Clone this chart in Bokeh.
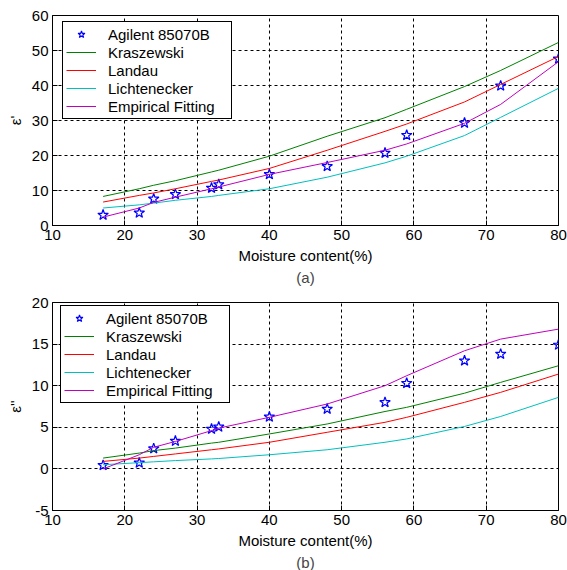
from bokeh.plotting import figure
from bokeh.layouts import column
from bokeh.models import Range1d, FixedTicker, Title
from bokeh.embed import file_html
from bokeh.resources import INLINE

moisture = [17, 22, 24, 27, 32, 33, 40, 48, 56, 59, 67, 72, 80]

# (a) real part
eps1_meas = [3.0, 3.6, 7.6, 8.9, 10.7, 11.7, 14.6, 16.9, 20.7, 25.8, 29.3, 39.9, 47.6]
eps1_krasz = [8.3, 10.5, 11.5, 12.8, 15.3, 15.8, 19.8, 25.5, 30.8, 33.2, 39.7, 44.3, 52.3]
eps1_landau = [6.7, 8.6, 9.3, 10.5, 12.6, 13.0, 16.3, 21.5, 26.9, 29.0, 35.3, 40.3, 48.3]
eps1_licht = [5.0, 5.9, 6.4, 7.2, 8.3, 8.6, 10.5, 13.8, 17.9, 19.8, 25.7, 30.9, 39.2]
eps1_emp = [2.4, 5.0, 6.6, 8.1, 10.5, 11.0, 14.6, 18.0, 21.5, 23.3, 29.2, 34.6, 46.8]

# (b) imaginary part
eps2_meas = [0.43, 0.72, 2.44, 3.35, 4.8, 5.05, 6.25, 7.2, 8.0, 10.3, 13.0, 13.8, 14.9]
eps2_krasz = [1.3, 1.9, 2.2, 2.5, 3.1, 3.2, 4.2, 5.4, 6.9, 7.4, 9.1, 10.4, 12.4]
eps2_landau = [0.9, 1.3, 1.5, 1.8, 2.3, 2.4, 3.2, 4.4, 5.6, 6.2, 8.0, 9.2, 11.4]
eps2_licht = [0.5, 0.75, 0.85, 1.0, 1.2, 1.25, 1.7, 2.3, 3.2, 3.6, 5.1, 6.3, 8.6]
eps2_emp = [0.0, 1.7, 2.6, 3.3, 4.6, 4.9, 6.2, 7.8, 10.0, 11.2, 14.2, 15.6, 16.8]

x_ticks = [10, 20, 30, 40, 50, 60, 70, 80]
y1_ticks = [0, 10, 20, 30, 40, 50, 60]
y2_ticks = [-5, 0, 5, 10, 15, 20]
series_names = ["Agilent 85070B", "Kraszewski", "Landau", "Lichtenecker", "Empirical Fitting"]
series_colors = ["#0000ff", "#008000", "#ff0000", "#00bfbf", "#bf00bf"]

FONT = "Liberation Sans"
FS = "15px"

def make(meas, kr, la, li, em, yr, yticks, ylabel, tag, frame_h, top, bottom, loc):
    p = figure(frame_width=506, frame_height=frame_h, title=None,
               output_backend="svg", toolbar_location=None,
               x_range=Range1d(10, 80), y_range=Range1d(*yr),
               min_border_left=52, min_border_right=9, min_border_top=top,
               min_border_bottom=bottom)
    p.background_fill_color = "white"
    p.border_fill_color = "white"
    p.outline_line_color = "black"
    p.outline_line_width = 1
    p.outline_line_alpha = 1

    for g in (p.xgrid, p.ygrid):
        g.grid_line_color = "black"
        g.grid_line_dash = "3 3"
        g.grid_line_alpha = 1
        g.grid_line_width = 1

    p.scatter(moisture, meas, marker="star", size=11, line_color=series_colors[0],
              fill_color=None, line_width=1.2, legend_label=series_names[0])
    for ys, name, col in zip([kr, la, li, em], series_names[1:], series_colors[1:]):
        p.line(moisture, ys, line_color=col, line_width=1, line_alpha=1.0,
               legend_label=name)

    p.xaxis.ticker = FixedTicker(ticks=x_ticks)
    p.yaxis.ticker = FixedTicker(ticks=yticks)
    p.yaxis.major_label_overrides = {t: str(t) for t in yticks}
    for ax in (p.xaxis, p.yaxis):
        ax.axis_line_color = "black"
        ax.major_tick_line_color = "black"
        ax.major_tick_in = 5
        ax.major_tick_out = 0
        ax.minor_tick_line_color = None
        ax.major_label_text_font = FONT
        ax.major_label_text_font_size = FS
        ax.major_label_text_color = "black"
        ax.axis_label_text_font = FONT
        ax.axis_label_text_font_size = FS
        ax.axis_label_text_font_style = "normal"
        ax.axis_label_text_color = "black"
    p.xaxis.major_label_standoff = 4
    p.yaxis.major_label_standoff = 4
    p.xaxis.axis_label = "Moisture content(%)"
    p.xaxis.axis_label_standoff = 4
    p.yaxis.axis_label = ylabel
    p.yaxis.axis_label_standoff = 5

    p.add_layout(Title(text=tag, align="center", text_font=FONT, text_font_size=FS,
                       text_font_style="normal", standoff=0), "below")

    lg = p.legend[0]
    lg.location = loc
    lg.margin = 0
    lg.padding = 3
    lg.spacing = 0
    lg.label_height = 18
    lg.glyph_height = 18
    lg.glyph_width = 30
    lg.label_standoff = 12
    lg.label_width = 120
    lg.label_text_font = FONT
    lg.label_text_font_size = FS
    lg.label_text_color = "black"
    lg.border_line_color = "black"
    lg.border_line_width = 1
    lg.border_line_alpha = 1
    lg.background_fill_color = "white"
    lg.background_fill_alpha = 1
    return p

p1 = make(eps1_meas, eps1_krasz, eps1_landau, eps1_licht, eps1_emp, (0, 60), y1_ticks,
          "ε'", "(a)", 210, 15, 62, (10, 106))
p2 = make(eps2_meas, eps2_krasz, eps2_landau, eps2_licht, eps2_emp, (-5, 20), y2_ticks,
          "ε''", "(b)", 208, 15, 60, (8, 107))

layout = column(p1, p2, spacing=0)
open("out.html", "w").write(file_html(layout, INLINE))
